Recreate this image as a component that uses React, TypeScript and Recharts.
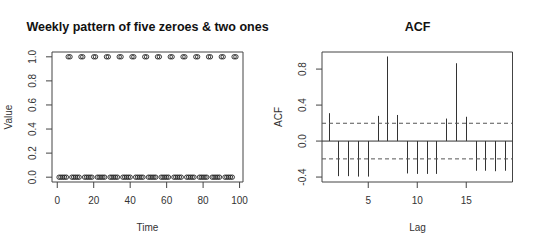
import React from 'react';
import {
  ScatterChart,
  Scatter,
  ComposedChart,
  Bar,
  XAxis,
  YAxis,
  ReferenceArea,
  ReferenceLine,
} from 'recharts';

// series: five zeroes then two ones, repeated for 14 weeks
const weeklyValues = [
  0, 0, 0, 0, 0, 1, 1,
  0, 0, 0, 0, 0, 1, 1,
  0, 0, 0, 0, 0, 1, 1,
  0, 0, 0, 0, 0, 1, 1,
  0, 0, 0, 0, 0, 1, 1,
  0, 0, 0, 0, 0, 1, 1,
  0, 0, 0, 0, 0, 1, 1,
  0, 0, 0, 0, 0, 1, 1,
  0, 0, 0, 0, 0, 1, 1,
  0, 0, 0, 0, 0, 1, 1,
  0, 0, 0, 0, 0, 1, 1,
  0, 0, 0, 0, 0, 1, 1,
  0, 0, 0, 0, 0, 1, 1,
  0, 0, 0, 0, 0, 1, 1,
];
const timeTicks = [0, 20, 40, 60, 80, 100];
const valueTicks = [0, 0.2, 0.4, 0.6, 0.8, 1.0];

// autocorrelations
const acfLags = [1, 2, 3, 4, 5, 6, 7, 8, 9, 10, 11, 12, 13, 14, 15, 16, 17, 18, 19];
const acfValues = [
  0.31, -0.39, -0.39, -0.395, -0.395, 0.28, 0.94, 0.29, -0.36, -0.365,
  -0.365, -0.365, 0.25, 0.865, 0.27, -0.33, -0.33, -0.335, -0.33,
];
const acfBound = 0.198;
const lagTicks = [5, 10, 15];
const acfTicks = [-0.4, -0.2, 0, 0.2, 0.4, 0.6, 0.8];
const acfLabelled = [-0.4, 0, 0.4, 0.8];

const FONT = '"Liberation Sans", Arial, sans-serif';
const INK = '#333';
const FRAME = '#444';

const W = 270;
const H = 247;
const margin = { top: 52, right: 27, left: 0, bottom: 0 };

const RotatedTick = (props: any) => {
  const { x, y, payload, shown } = props;
  if (shown && !shown.includes(payload.value)) return null;
  return (
    <text
      x={x}
      y={y}
      transform={`rotate(-90 ${x} ${y})`}
      textAnchor="middle"
      fontSize={10}
      fill={INK}
      fontFamily={FONT}
    >
      {Number(payload.value).toFixed(1)}
    </text>
  );
};

const Labels = ({ title, xLabel, yLabel }: { title: string; xLabel: string; yLabel: string }) => (
  <g fontFamily={FONT}>
    <text x={147.5} y={31} textAnchor="middle" fontSize={12.5} fontWeight="bold" fill="#111">
      {title}
    </text>
    <text x={147.5} y={231} textAnchor="middle" fontSize={10} fill={INK}>
      {xLabel}
    </text>
    <text x={12} y={117} transform="rotate(-90 12 117)" textAnchor="middle" fontSize={10} fill={INK}>
      {yLabel}
    </text>
  </g>
);

const SeriesPanel = () => {
  const points = weeklyValues.map((v, i) => ({ time: i + 1, value: v }));
  return (
    <ScatterChart width={W} height={H} margin={margin}>
      <XAxis
        dataKey="time"
        type="number"
        domain={[-2.88, 101.88]}
        ticks={timeTicks}
        allowDataOverflow
        axisLine={false}
        tickLine={{ stroke: FRAME }}
        tickSize={6}
        tickMargin={9}
        height={65}
        tick={{ fontSize: 10, fill: INK, fontFamily: FONT }}
      />
      <YAxis
        dataKey="value"
        type="number"
        domain={[-0.04, 1.04]}
        ticks={valueTicks}
        allowDataOverflow
        axisLine={false}
        tickLine={{ stroke: FRAME }}
        tickSize={6}
        tickMargin={9.5}
        width={52}
        tick={<RotatedTick />}
      />
      <ReferenceArea x1={-2.88} x2={101.88} y1={-0.04} y2={1.04} fill="none" stroke={FRAME} strokeWidth={1} />
      <Scatter
        data={points}
        isAnimationActive={false}
        shape={(p: any) => (
          <circle cx={p.cx} cy={p.cy} r={2.2} fill="none" stroke="#222" strokeWidth={0.9} />
        )}
      />
      <Labels title="Weekly pattern of five zeroes & two ones" xLabel="Time" yLabel="Value" />
    </ScatterChart>
  );
};

const AcfPanel = () => {
  const rows = acfLags.map((lag, i) => ({ lag, acf: acfValues[i] }));
  return (
    <ComposedChart width={W} height={H} data={rows} margin={{ ...margin, right: 27.5 }}>
      <XAxis
        dataKey="lag"
        type="number"
        domain={[0.28, 19.72]}
        ticks={lagTicks}
        allowDataOverflow
        axisLine={false}
        tickLine={{ stroke: FRAME }}
        tickSize={6}
        tickMargin={9}
        height={65}
        tick={{ fontSize: 10, fill: INK, fontFamily: FONT }}
      />
      <YAxis
        type="number"
        domain={[-0.455, 0.99]}
        ticks={acfTicks}
        allowDataOverflow
        axisLine={false}
        tickLine={{ stroke: FRAME }}
        tickSize={6}
        tickMargin={9.5}
        width={52}
        tick={<RotatedTick shown={acfLabelled} />}
      />
      <ReferenceArea x1={0.28} x2={19.72} y1={-0.455} y2={0.99} fill="none" stroke={FRAME} strokeWidth={1} />
      <ReferenceLine y={acfBound} stroke="#555" strokeDasharray="4 3" />
      <ReferenceLine y={-acfBound} stroke="#555" strokeDasharray="4 3" />
      <ReferenceLine y={0} stroke={INK} />
      <Bar
        dataKey="acf"
        barSize={1}
        isAnimationActive={false}
        shape={(p: any) => {
          const cx = Math.round(p.x + p.width / 2) + 0.5;
          return <line x1={cx} x2={cx} y1={p.y} y2={p.y + p.height} stroke={INK} strokeWidth={1} />;
        }}
      />
      <Labels title="ACF" xLabel="Lag" yLabel="ACF" />
    </ComposedChart>
  );
};

export default function App() {
  return (
    <div style={{ position: 'absolute', left: 0, top: 0, width: 540, height: 247, display: 'flex', background: '#fff' }}>
      <SeriesPanel />
      <AcfPanel />
    </div>
  );
}
